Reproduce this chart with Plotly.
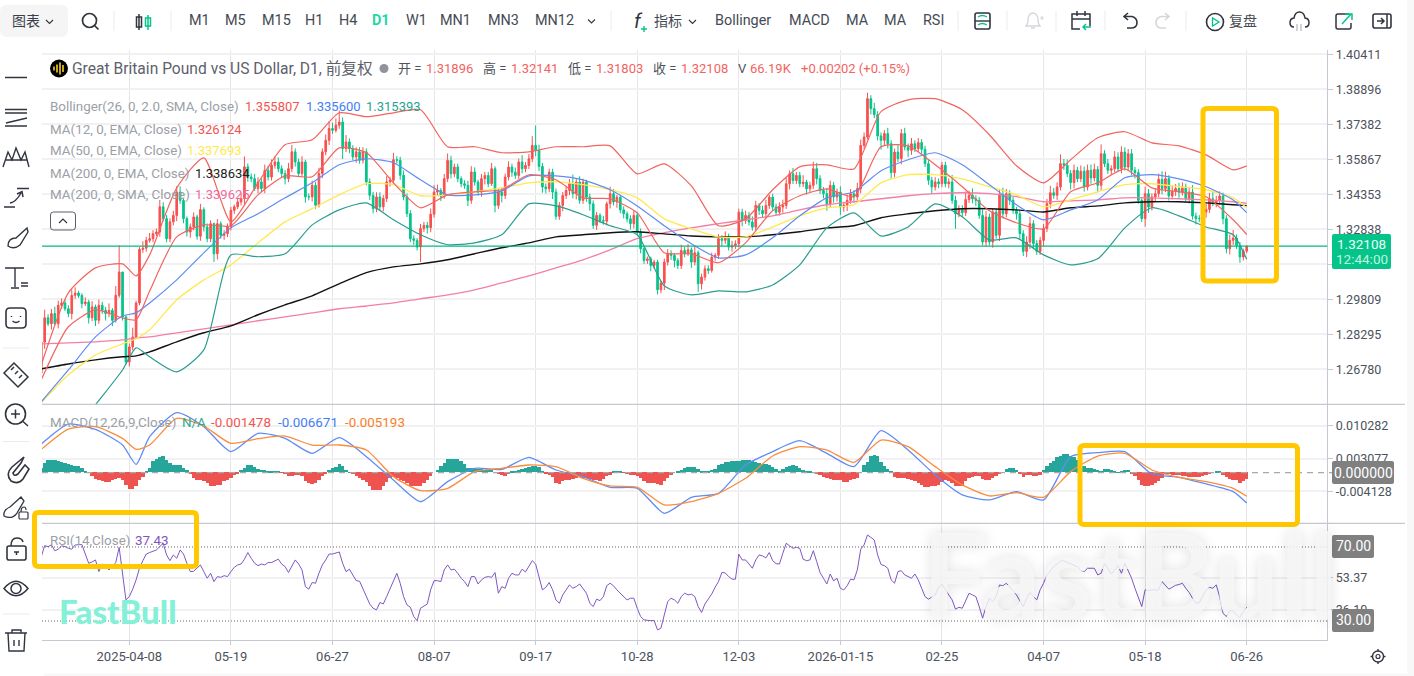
import re
import plotly.graph_objects as go

W, H = 1414, 676

# --- Daily GBP/USD session data -------------------------------------------
first_open = 1.2662
closes = [
1.2796,1.2901,1.2875,1.2919,1.2875,1.2955,1.2965,1.2940,1.2919,1.2998,
1.3008,1.2997,1.2962,1.2969,1.2901,1.2948,1.2890,1.2955,1.2933,1.2919,
1.2933,1.2890,1.2998,1.3099,1.2904,1.2710,1.2775,1.2818,1.2965,1.3197,
1.3202,1.3236,1.3243,1.3265,1.3272,1.3381,1.3330,1.3243,1.3316,1.3344,
1.3445,1.3409,1.3330,1.3272,1.3294,1.3337,1.3254,1.3369,1.3294,1.3243,
1.3308,1.3178,1.3308,1.3258,1.3265,1.3294,1.3366,1.3381,1.3402,1.3417,
1.3554,1.3510,1.3503,1.3460,1.3489,1.3460,1.3539,1.3510,1.3561,1.3575,
1.3546,1.3525,1.3503,1.3546,1.3619,1.3575,1.3525,1.3575,1.3424,1.3424,
1.3474,1.3388,1.3525,1.3619,1.3669,1.3720,1.3712,1.3734,1.3748,1.3633,
1.3662,1.3633,1.3597,1.3619,1.3583,1.3619,1.3489,1.3431,1.3373,1.3424,
1.3381,1.3417,1.3489,1.3496,1.3585,1.3583,1.3518,1.3424,1.3352,1.3243,
1.3236,1.3207,1.3287,1.3301,1.3291,1.3349,1.3445,1.3452,1.3426,1.3503,
1.3582,1.3524,1.3553,1.3503,1.3481,1.3474,1.3409,1.3532,1.3488,1.3445,
1.3503,1.3517,1.3481,1.3546,1.3387,1.3445,1.3430,1.3510,1.3553,1.3531,
1.3517,1.3575,1.3546,1.3560,1.3589,1.3647,1.3625,1.3556,1.3467,1.3459,
1.3531,1.3445,1.3340,1.3387,1.3430,1.3452,1.3481,1.3438,1.3488,1.3409,
1.3488,1.3423,1.3394,1.3301,1.3344,1.3322,1.3319,1.3394,1.3438,1.3402,
1.3423,1.3368,1.3351,1.3329,1.3308,1.3344,1.3272,1.3200,1.3149,1.3156,
1.3127,1.3142,1.3022,1.3051,1.3142,1.3178,1.3171,1.3149,1.3127,1.3192,
1.3178,1.3195,1.3142,1.3182,1.3048,1.3077,1.3113,1.3106,1.3163,1.3171,
1.3243,1.3236,1.3250,1.3207,1.3214,1.3221,1.3358,1.3322,1.3344,1.3315,
1.3293,1.3387,1.3366,1.3351,1.3387,1.3423,1.3380,1.3358,1.3380,1.3387,
1.3481,1.3524,1.3495,1.3517,1.3481,1.3488,1.3459,1.3474,1.3546,1.3503,
1.3452,1.3438,1.3394,1.3474,1.3424,1.3445,1.3380,1.3388,1.3409,1.3438,
1.3424,1.3460,1.3647,1.3683,1.3849,1.3806,1.3780,1.3688,1.3669,1.3698,
1.3654,1.3529,1.3618,1.3590,1.3698,1.3640,1.3626,1.3654,1.3633,1.3659,
1.3630,1.3568,1.3496,1.3467,1.3489,1.3481,1.3561,1.3481,1.3489,1.3409,
1.3351,1.3373,1.3356,1.3413,1.3431,1.3416,1.3409,1.3344,1.3229,1.3337,
1.3229,1.3359,1.3258,1.3434,1.3351,1.3438,1.3409,1.3366,1.3351,1.3265,
1.3188,1.3229,1.3308,1.3222,1.3188,1.3236,1.3287,1.3395,1.3442,1.3431,
1.3467,1.3568,1.3561,1.3525,1.3486,1.3539,1.3503,1.3535,1.3467,1.3539,
1.3506,1.3543,1.3474,1.3611,1.3568,1.3539,1.3546,1.3597,1.3546,1.3618,
1.3553,1.3611,1.3539,1.3529,1.3409,1.3330,1.3438,1.3380,1.3424,1.3438,
1.3500,1.3460,1.3503,1.3428,1.3448,1.3460,1.3445,1.3467,1.3416,1.3445,
1.3341,1.3330,1.3330,1.3359,1.3370,1.3416,1.3399,1.3409,1.3428,1.3330,
1.3200,1.3236,1.3246,1.3214,1.3164,1.31896,1.32108]

# Shadow lengths above and below each body, in units of 0.0001
upper_wick = [
15,35,15,20,30,20,20,15,15,25, 25,10,10,20,10,25,10,25,15,15,
30,10,40,116,0,10,15,40,10,10, 30,15,25,15,15,30,20,15,15,20,
25,25,10,10,15,20,10,25,10,15, 15,5,20,10,15,15,15,10,15,25,
45,15,15,20,20,15,25,20,25,25, 20,15,15,25,30,15,15,25,10,15,
20,15,25,15,25,30,25,30,50,20, 30,15,15,20,20,20,15,15,15,20,
20,15,25,15,30,15,15,20,15,15, 15,10,20,15,15,25,30,25,10,20,
30,20,15,15,10,15,20,25,20,10, 20,15,15,25,10,15,20,15,25,15,
20,15,30,15,20,40,86,25,15,15, 15,15,15,15,15,20,20,40,15,25,
15,10,15,15,15,10,20,10,30,20, 10,10,15,10,15,20,15,15,10,10,
10,10,10,10,15,20,15,10,10,25, 15,25,10,30,10,15,15,15,20,10,
20,15,25,15,20,15,15,15,20,15, 25,20,10,20,25,10,15,15,20,25,
25,15,25,15,15,30,10,15,30,25, 15,15,25,20,15,15,25,15,25,20,
15,25,25,20,26,15,25,15,15,15, 25,15,15,30,20,25,15,25,15,20,
15,15,15,15,20,15,15,15,15,30, 20,15,15,35,20,30,15,15,25,25,
15,15,15,25,30,20,15,15,15,15, 15,25,30,15,15,15,20,20,30,20,
20,40,20,25,15,25,15,25,20,25, 25,25,15,40,15,20,15,25,20,25,
20,20,20,15,15,15,30,20,15,20, 25,35,30,15,25,20,25,20,15,20,
30,15,15,15,25,25,30,20,20,15, 15,25,35,15,15,10,3.3]
lower_wick = [
2,30,10,25,5,20,15,10,15,25, 15,10,20,10,25,15,25,15,15,30,
15,25,10,10,15,10,20,15,10,10, 15,15,10,15,10,20,10,15,15,15,
25,15,20,20,25,15,15,20,20,15, 15,35,25,15,20,15,15,15,10,15,
25,20,15,10,20,15,20,15,15,15, 15,15,25,15,15,20,15,15,25,15,
20,15,10,20,15,20,15,10,15,45, 15,20,15,25,15,15,15,20,20,15,
15,20,15,20,15,15,20,15,15,15, 20,15,65,15,25,20,15,15,20,10,
15,20,15,15,15,15,25,15,15,15, 20,25,15,10,30,15,30,15,15,20,
15,15,20,15,15,15,25,20,25,20, 15,30,15,15,25,15,20,20,25,15,
15,20,30,15,20,10,15,15,20,15, 25,15,20,15,25,20,15,20,15,15,
25,15,20,15,30,15,20,30,15,15, 15,10,25,15,35,25,15,15,10,15,
15,25,15,15,20,15,15,25,15,15, 15,15,20,15,20,15,15,15,15,25,
15,25,15,15,15,15,25,15,15,25, 15,20,30,15,25,20,35,20,25,15,
25,15,20,15,10,25,15,20,40,20, 20,25,20,15,25,15,30,20,15,15,
20,15,20,30,15,20,15,15,20,15, 65,15,20,15,15,20,25,15,15,20,
15,25,15,25,20,15,20,15,25,25, 20,25,30,25,15,15,25,15,20,15,
20,15,20,15,30,25,15,15,20,15, 25,15,30,20,15,15,20,15,15,20,
15,15,20,25,15,15,35,25,15,20, 15,25,15,20,15,20,25,15,15,20,
15,25,15,20,25,15,15,20,20,25, 20,25,20,15,25,15,9.3]

# Moving averages and bands, sampled on the session numbers below
line_sessions = [0,8,16,24,28] + list(range(32, 353, 8)) + [356]
boll_upper = [
1.2697,1.3009,1.3117,1.3134,1.3082,1.3173,1.3463,1.3593,1.3316,1.3485,1.3650,1.3671,
1.3788,1.3771,1.3788,1.3801,1.3641,1.3641,1.3615,1.3619,1.3641,1.3641,1.3645,1.3524,
1.3567,1.3472,1.3299,1.3329,1.3455,1.3554,1.3563,1.3545,1.3793,1.3844,1.3849,1.3801,
1.3693,1.3559,1.3485,1.3585,1.3680,1.3706,1.3658,1.3645,1.3606,1.3541,1.355807]
boll_mid = [
1.2537,1.2675,1.2818,1.2909,1.2922,1.2965,1.3065,1.3182,1.3290,1.3351,1.3420,1.3485,
1.3563,1.3589,1.3572,1.3498,1.3433,1.3433,1.3450,1.3515,1.3515,1.3498,1.3455,1.3385,
1.3299,1.3221,1.3160,1.3173,1.3247,1.3342,1.3420,1.3446,1.3537,1.3585,1.3615,1.3563,
1.3477,1.3390,1.3325,1.3368,1.3411,1.3507,1.3520,1.3502,1.3468,1.3411,1.3356]
boll_lower = [
1.2242,1.2372,1.2524,1.2675,1.2771,1.2732,1.2667,1.2762,1.3173,1.3165,1.3178,1.3303,
1.3368,1.3398,1.3325,1.3260,1.3217,1.3225,1.3260,1.3394,1.3385,1.3347,1.3299,1.3260,
1.3039,1.3000,1.3017,1.3013,1.3043,1.3130,1.3290,1.3355,1.3255,1.3294,1.3394,1.3338,
1.3238,1.3247,1.3173,1.3130,1.3156,1.3290,1.3377,1.3342,1.3294,1.3260,1.315393]
ema12 = [
1.2632,1.2862,1.2935,1.2900,1.2892,1.3017,1.3251,1.3303,1.3299,1.3433,1.3515,1.3511,
1.3636,1.3615,1.3485,1.3377,1.3433,1.3446,1.3455,1.3520,1.3498,1.3420,1.3416,1.3355,
1.3182,1.3178,1.3139,1.3225,1.3364,1.3429,1.3459,1.3425,1.3641,1.3645,1.3563,1.3468,
1.3364,1.3312,1.3286,1.3446,1.3485,1.3545,1.3463,1.3446,1.3425,1.3325,1.326124]
ema50 = [
1.2533,1.2654,1.2740,1.2788,1.2810,1.2849,1.2979,1.3065,1.3130,1.3225,1.3316,1.3373,
1.3433,1.3481,1.3477,1.3429,1.3433,1.3446,1.3463,1.3485,1.3489,1.3477,1.3455,1.3420,
1.3329,1.3286,1.3251,1.3251,1.3294,1.3342,1.3377,1.3390,1.3485,1.3520,1.3520,1.3502,
1.3468,1.3433,1.3381,1.3411,1.3446,1.3477,1.3481,1.3468,1.3455,1.3420,1.337693]
ema200 = [
1.2680,1.2701,1.2719,1.2732,1.2736,1.2753,1.2797,1.2836,1.2866,1.2914,1.2957,1.2996,
1.3048,1.3096,1.3121,1.3134,1.3152,1.3178,1.3204,1.3225,1.3251,1.3260,1.3269,1.3273,
1.3264,1.3255,1.3251,1.3251,1.3260,1.3273,1.3290,1.3299,1.3334,1.3351,1.3364,1.3373,
1.3373,1.3368,1.3359,1.3377,1.3385,1.3398,1.3403,1.3403,1.3398,1.3390,1.338634]
sma200 = [
1.2788,1.2792,1.2797,1.2805,1.2814,1.2818,1.2836,1.2853,1.2870,1.2888,1.2905,1.2922,
1.2940,1.2952,1.2965,1.2983,1.3000,1.3022,1.3052,1.3082,1.3117,1.3152,1.3195,1.3243,
1.3269,1.3290,1.3308,1.3325,1.3342,1.3368,1.3390,1.3403,1.3416,1.3429,1.3438,1.3442,
1.3438,1.3425,1.3403,1.3407,1.3411,1.3420,1.3420,1.3416,1.3411,1.3403,1.339625]

# MACD(12,26,9) lines in units of 0.001, histogram in units of 0.00001
macd_line = [
6.31,10.71,9.54,6.09,1.84,7.92,13.2,10.12,4.63,8.66,7.56,4.26,7.70,3.53,-1.60,-6.37,
-1.97,0.96,0.74,3.38,0.59,-0.87,-3.22,-3.44,-8.94,-5.42,-4.54,1.69,4.63,7.04,4.26,1.33,
9.24,5.0,-0.51,-4.9,-6.0,-4.17,-6.0,3.53,4.41,4.63,-0.29,-1.02,-2.48,-4.17,-6.671]
macd_signal = [
5.14,9.61,10.12,7.56,5.14,6.09,11.96,10.27,6.46,7.48,8.07,6.09,6.09,4.99,-0.87,-3.95,
-3.44,0.23,0.96,1.69,1.33,-1.24,-2.92,-3.22,-7.1,-6.37,-4.54,-1.24,3.67,5.72,4.99,2.28,
7.19,5.72,1.33,-2.7,-5.12,-4.39,-5.42,0.23,3.67,4.26,0.59,-1.02,-1.97,-3.44,-5.193]
macd_hist = [
95,205,264,279,264,242,235,205,191,154, 147,132,95,37,0,-73,-147,-176,-198,-213,
-213,-176,-147,-125,-161,-271,-367,-367,-308,-161, -103,22,95,242,293,337,367,279,205,169,
169,169,95,44,-15,-125,-176,-161,-198,-235, -293,-308,-271,-271,-198,-161,-125,-51,-15,44,
95,154,154,110,73,44,44,29,22,22, 22,-7,-29,-88,-73,-59,-59,-88,-198,-235,
-249,-235,-161,-73,-15,44,95,117,183,132, 59,7,-29,-73,-125,-161,-220,-293,-396,-396,
-381,-293,-220,-125,-110,-125,-161,-198,-235,-293, -308,-308,-293,-235,-161,-73,0,59,132,205,
293,293,293,293,242,191,95,95,95,81, 73,59,73,44,0,-29,-51,-73,-29,22,
37,59,73,95,110,132,132,110,15,-22, -59,-103,-235,-249,-198,-161,-161,-147,-125,-103,
-117,-132,-147,-161,-176,-183,-147,-88,-51,22, 22,15,-7,-29,-51,-59,-88,-132,-183,-235,
-235,-235,-249,-271,-183,-125,-51,0,29,44, 95,117,110,110,73,37,22,29,59,81,
154,191,227,235,242,249,257,264,279,264, 257,227,205,191,176,169,110,73,22,73,
110,147,154,139,103,59,29,15,0,-22, -59,-103,-125,-147,-161,-161,-169,-213,-213,-161,
-139,-125,0,169,220,352,381,352,220,132, 73,15,-103,-125,-125,-125,-139,-161,-198,-235,
-279,-323,-323,-308,-293,-271,-220,-176,-198,-235, -293,-293,-293,-198,-125,-103,-88,-73,-147,-176,
-161,-125,-88,-29,0,73,103,95,44,-29, -103,-59,-59,-88,-73,-51,59,132,205,249,
337,367,396,403,367,337,279,191,147,95, 95,81,51,37,66,73,44,15,7,37,
44,44,-29,-88,-161,-271,-293,-293,-271,-235, -183,-125,-29,-29,-51,-51,-51,-73,-88,-95,
-103,-110,-110,-88,-51,-29,0,15,15,-51, -103,-147,-161,-176,-235,-198,-147.8]

# RSI(14)
rsi = [
64.8,70.7,70.2,71.1,68.0,68.8,70.6,70.2,69.3,68.8, 71.1,71.3,71.3,66.2,61.2,61.9,63.0,56.7,60.8,59.4,
57.6,59.4,61.6,69.8,55.8,41.4,43.2,47.2,52.2,58.5, 62.6,66.2,67.0,67.5,68.4,70.2,72.0,65.7,62.6,65.7,
63.9,68.4,66.2,61.2,56.7,56.9,58.5,60.3,56.7,53.1, 55.8,51.3,54.0,53.6,54.5,54.0,56.7,59.0,60.3,60.8,
63.4,67.0,63.9,61.2,59.9,60.8,60.3,61.6,61.6,62.3, 63.4,60.8,59.4,56.2,59.8,63.0,60.8,57.6,48.6,47.2,
50.8,50.4,55.8,60.3,63.0,66.2,66.2,66.6,67.3,61.2, 56.7,58.0,54.9,51.8,51.5,47.7,43.2,39.2,36.9,36.0,
40.0,39.2,43.2,47.7,51.3,55.8,50.4,43.2,38.7,37.4, 32.4,30.2,36.9,38.3,39.2,46.9,51.8,51.8,51.3,57.6,
60.3,57.6,58.0,55.8,53.1,51.3,48.6,54.0,54.0,50.0, 52.2,53.6,54.0,53.6,56.2,45.0,48.6,47.7,53.1,55.8,
54.9,54.9,58.0,56.5,59.4,62.6,60.8,53.1,46.8,48.2, 50.8,46.9,41.4,39.6,44.1,46.8,49.5,47.7,48.6,50.0,
47.7,45.0,39.6,37.8,41.8,41.0,43.2,49.1,50.4,49.0, 46.8,45.0,43.2,41.4,42.3,42.3,36.9,32.4,30.6,30.2,
30.2,30.2,25.2,26.1,34.2,40.5,42.3,41.4,39.6,43.2, 45.0,44.1,44.5,43.2,37.8,34.6,39.2,41.8,44.6,48.2,
51.3,56.2,56.0,54.0,52.6,52.6,66.1,63.0,63.0,60.8, 58.5,63.0,65.7,65.2,64.1,67.0,62.6,61.0,60.8,66.6,
72.0,70.6,69.3,69.8,69.3,63.4,62.6,63.0,68.0,62.1, 56.2,53.1,50.0,55.4,51.7,53.1,47.7,46.8,49.0,52.6,
52.2,57.6,68.8,71.1,76.5,75.2,73.8,65.7,60.5,59.9, 58.5,52.2,50.4,56.7,57.2,54.9,54.0,53.1,55.4,52.2,
47.7,43.2,41.8,43.2,44.1,48.2,50.0,46.9,44.1,41.4, 36.4,37.4,36.9,40.5,45.0,44.1,43.2,37.8,31.5,37.8,
42.3,40.5,43.2,49.5,49.0,50.4,48.6,46.4,44.1,40.9, 37.8,42.3,45.5,43.2,41.4,46.9,50.4,54.9,57.2,59.4,
60.8,62.5,62.5,61.6,60.8,60.1,59.4,57.2,56.7,58.5, 58.5,58.5,54.9,55.8,61.2,58.0,55.4,57.6,59.9,55.8,
61.2,57.2,53.1,47.7,42.3,37.8,46.9,46.4,46.8,46.8, 46.8,51.3,49.5,47.2,48.2,49.3,49.7,50.4,47.7,45.4,
42.3,39.6,40.0,43.2,46.8,48.2,47.7,49.5,43.2,34.2, 32.4,35.6,35.6,33.3,31.9,35.1,37.43]

# Axis labelling; the 1.31324 gridline sits behind the last-price tag, so it carries no label
date_ticks = [26, 56, 86, 116, 146, 176, 206, 236, 266, 296, 326, 356]
date_labels = ["2025-04-08","05-19","06-27","08-07","09-17","10-28","12-03",
               "2026-01-15","02-25","04-07","05-18","06-26"]
price_ticks = [1.40411,1.38896,1.37382,1.35867,1.34353,1.32838,1.31324,1.29809,1.28295,1.26780]
price_labels = ["1.40411","1.38896","1.37382","1.35867","1.34353","1.32838","","1.29809","1.28295","1.26780"]
macd_ticks = [0.010282,0.003077,-0.004128]
rsi_ticks = [53.37,36.10]

RED, GREEN = "#f9504f", "#05c48a"
TEXT, MUTED = "#4d525c", "#9b9fa7"
GRID, VGRID, AXIS = "#f1f1f3", "#e6e6e8", "#c8c8d2"
FONT = "Roboto, Noto Sans CJK SC"

sessions = list(range(len(closes)))
opens = [first_open] + closes[:-1]
highs = [max(o, c) + u / 1e4 for o, c, u in zip(opens, closes, upper_wick)]
lows = [min(o, c) - d / 1e4 for o, c, d in zip(opens, closes, lower_wick)]


def px(x):
    return x / W


def py(y):
    return 1 - y / H


fig = go.Figure()
fig.add_trace(go.Candlestick(
    x=sessions, open=opens, high=highs, low=lows, close=closes, whiskerwidth=0,
    increasing=dict(line=dict(color=RED, width=1), fillcolor=RED),
    decreasing=dict(line=dict(color=GREEN, width=1), fillcolor=GREEN),
    xaxis="x", yaxis="y", hoverinfo="skip"))

for series, colour, width in [
    (sma200, "#f47ea6", 1.3), (ema200, "#111111", 1.4), (ema50, "#ffe94d", 1.3),
    (boll_mid, "#5f8cf5", 1.2), (boll_lower, "#2a9d8f", 1.2),
    (boll_upper, "#f2655f", 1.2), (ema12, "#f2655f", 1.2)]:
    fig.add_trace(go.Scatter(x=line_sessions, y=series, mode="lines", hoverinfo="skip",
                             line=dict(color=colour, width=width, shape="spline", smoothing=0.6),
                             xaxis="x", yaxis="y"))

fig.add_trace(go.Bar(x=sessions, y=[v / 1e5 for v in macd_hist], width=1,
                     marker=dict(color=["#26a69a" if v >= 0 else "#ef5350" for v in macd_hist],
                                 line_width=0),
                     xaxis="x2", yaxis="y2", hoverinfo="skip"))
fig.add_trace(go.Scatter(x=line_sessions, y=[v / 1e3 for v in macd_line], mode="lines", hoverinfo="skip",
                         line=dict(color="#5f8cf5", width=1.3, shape="spline", smoothing=0.6),
                         xaxis="x2", yaxis="y2"))
fig.add_trace(go.Scatter(x=line_sessions, y=[v / 1e3 for v in macd_signal], mode="lines", hoverinfo="skip",
                         line=dict(color="#fb8c3c", width=1.3, shape="spline", smoothing=0.6),
                         xaxis="x2", yaxis="y2"))
fig.add_trace(go.Scatter(x=sessions, y=rsi, mode="lines", hoverinfo="skip",
                         line=dict(color="#7e57c2", width=1), xaxis="x3", yaxis="y3"))

x_range = [0.21, 379.8]
x_domain = [px(42), px(1327.3)]


def x_axis(anchor, labels=False):
    return dict(domain=x_domain, range=x_range, anchor=anchor, tickmode="array",
                tickvals=date_ticks, ticktext=date_labels, showticklabels=labels,
                showgrid=True, gridcolor=VGRID, gridwidth=1, zeroline=False,
                showline=labels, linecolor=AXIS, ticks="outside" if labels else "",
                ticklen=4, tickcolor=AXIS, tickfont=dict(family=FONT, size=13, color=TEXT))


def y_axis(anchor, top, bottom, rng, ticks, text):
    return dict(domain=[py(bottom), py(top)], range=rng, anchor=anchor, side="right",
                tickmode="array", tickvals=ticks, ticktext=text, showgrid=True,
                gridcolor=GRID, gridwidth=1.5, zeroline=False, ticks="outside", ticklen=5,
                tickcolor=AXIS, showline=True, linecolor=AXIS,
                tickfont=dict(family=FONT, size=12.5, color=TEXT))


layout = dict(
    width=W, height=H, autosize=False,
    margin=dict(l=0, r=0, t=0, b=0, pad=0, autoexpand=False),
    paper_bgcolor="#ffffff", plot_bgcolor="#ffffff", showlegend=False, hovermode=False,
    barmode="overlay", bargap=0,
    xaxis=dict(x_axis("y"), rangeslider=dict(visible=False)),
    xaxis2=x_axis("y2"), xaxis3=x_axis("y3", labels=True),
    yaxis=y_axis("x", 49.5, 404.3, [1.25265, 1.40619], price_ticks, price_labels),
    yaxis2=y_axis("x2", 404.3, 523.3, [-0.011146, 0.015056], macd_ticks, [f"{v:.6f}" for v in macd_ticks]),
    yaxis3=y_axis("x3", 523.3, 640.3, [19.57, 82.8], rsi_ticks, [f"{v:.2f}" for v in rsi_ticks]),
)
fig.update_layout(layout)

shapes, notes = [], []


def label(x, y, s, size=13, color=TEXT, anchor="left", weight=None, family=FONT, shadow=None):
    font = dict(family=family, size=size, color=color)
    if weight:
        font["weight"] = weight
    if shadow:
        font["shadow"] = shadow
    notes.append(dict(x=px(x), y=py(y), xref="paper", yref="paper", text=s, showarrow=False,
                      xanchor=anchor, yanchor="middle", font=font, borderpad=0, borderwidth=0))


def path(d, color="#30353f", width=1.6, fill=None, layer="above"):
    tokens = re.findall(r"[A-Za-z]|-?\d+\.?\d*", d)
    out, is_x = [], True
    for t in tokens:
        if t.isalpha():
            out.append(t)
            is_x = True
        else:
            out.append(f"{px(float(t)):.5f}" if is_x else f"{py(float(t)):.5f}")
            is_x = not is_x
    shapes.append(dict(type="path", xref="paper", yref="paper", path=" ".join(out), layer=layer,
                       line=dict(color=color, width=width), fillcolor=fill or "rgba(0,0,0,0)"))


def box(x0, y0, x1, y1, fill, r=2.0, line=None, width=0):
    d = (f"M {x0+r} {y0} L {x1-r} {y0} Q {x1} {y0} {x1} {y0+r} L {x1} {y1-r} Q {x1} {y1} {x1-r} {y1} "
         f"L {x0+r} {y1} Q {x0} {y1} {x0} {y1-r} L {x0} {y0+r} Q {x0} {y0} {x0+r} {y0} Z")
    path(d, color=line or "rgba(0,0,0,0)", width=width, fill=fill)


def ring(cx, cy, r, color="#30353f", width=1.6, fill=None):
    shapes.append(dict(type="circle", xref="paper", yref="paper", x0=px(cx - r), x1=px(cx + r),
                       y0=py(cy + r), y1=py(cy - r), layer="above",
                       line=dict(color=color, width=width), fillcolor=fill or "rgba(0,0,0,0)"))


# Last-price line, MACD zero line and RSI bands
shapes.append(dict(type="line", xref="paper", yref="y", x0=px(42), x1=px(1327.3), y0=closes[-1], y1=closes[-1],
                   line=dict(color="#06b981", width=1.2), layer="above"))
shapes.append(dict(type="line", xref="paper", yref="y2", x0=px(42), x1=px(1332), y0=0, y1=0,
                   line=dict(color="#a8a8a8", width=1.2, dash="6px,5px"), layer="above"))
for level in (70, 30):
    shapes.append(dict(type="line", xref="paper", yref="y3", x0=px(42), x1=px(1327.3), y0=level, y1=level,
                       line=dict(color="#666666", width=1, dash="1px,2px"), layer="above"))

# Panel separators and page edge
for y in (404.3, 523.3):
    path(f"M 42 {y} L 1405 {y}", color=AXIS, width=1.2)
shapes.append(dict(type="rect", xref="paper", yref="paper", x0=px(1407), x1=1, y0=0, y1=1, layer="above",
                   line_width=0, fillcolor="#f8f8f9"))
shapes.append(dict(type="rect", xref="paper", yref="paper", x0=px(44), x1=1, y0=0, y1=py(673.5), layer="above",
                   line_width=0, fillcolor="#f8f8f9"))

# Price and indicator tags on the right-hand axis
box(1332, 234, 1391, 269, GREEN)
label(1361.5, 244, "1.32108", 13.5, "#eafff7", "center")
label(1361.5, 259.5, "12:44:00", 13.5, "#bff5df", "center")
box(1332, 461, 1394, 484, "#808080")
label(1363, 472.5, "0.000000", 14, "#ffffff", "center")
box(1332, 535, 1374, 558, "#808080")
label(1353, 546, "70.00", 14, "#ffffff", "center")
box(1332, 609, 1374, 632, "#808080")
label(1353, 620, "30.00", 14, "#ffffff", "center")

# Symbol header row
ring(59, 68.5, 9, color="#000000", width=0, fill="#000000")
for bx, half in [(54, 2), (57, 4), (60, 6), (63, 3.5)]:
    path(f"M {bx} {68.5-half} L {bx} {68.5+half}", color="#f8cf2c", width=1.6)
label(72, 68.5, "Great Britain Pound vs US Dollar, D1, 前复权", 15.6, "#5d616b")
ring(384, 68.5, 4.5, color="#8f939c", width=0, fill="#8f939c")
for x, s in [(398, "开 ="), (483, "高 ="), (568, "低 ="), (653, "收 ="), (738, "V")]:
    label(x, 68.5, s, 13, TEXT)
for x, s in [(426, "1.31896"), (511, "1.32141"), (596, "1.31803"), (681, "1.32108"),
             (750, "66.19K"), (801, "+0.00202 (+0.15%)")]:
    label(x, 68.5, s, 13, "#f4635f")

# Indicator legends
label(50, 107, "Bollinger(26, 0, 2.0, SMA, Close)", 13.4, MUTED)
label(245, 107, "1.355807", 13, "#f2554f")
label(306, 107, "1.335600", 13, "#3f7ef5")
label(366, 107, "1.315393", 13, "#1ea58f")
label(50, 129, "MA(12, 0, EMA, Close)", 13.4, MUTED)
label(187, 129, "1.326124", 13, "#f2554f")
label(50, 151, "MA(50, 0, EMA, Close)", 13.4, MUTED)
label(187, 151, "1.337693", 13, "#ffe94d")
label(50, 173, "MA(200, 0, EMA, Close)", 13.4, MUTED)
label(195, 173, "1.338634", 13, "#222222")
label(50, 195, "MA(200, 0, SMA, Close)", 13.4, MUTED)
label(195, 195, "1.339625", 13, "#f0699d")
box(50.5, 212, 75.5, 230, "rgba(255,255,255,0)", r=3, line="#5a5f69", width=1)
path("M 59 223 L 63 219 L 67 223", width=1.2)

label(50, 422, "MACD(12,26,9,Close)", 13.4, MUTED)
label(182, 422, "N/A", 13.4, "#2aa994")
label(211, 422, "-0.001478", 13.4, "#f2554f")
label(278, 422, "-0.006671", 13.4, "#3f7ef5")
label(345, 422, "-0.005193", 13.4, "#fb7d1e")
label(50, 540, "RSI(14,Close)", 13.4, MUTED)
label(135, 540, "37.43", 13.4, "#7e57c2")

# Watermarks
label(1130, 573, "FastBull", 118, "rgba(247,247,247,0.84)", "center", weight=700, family="Lato",
      shadow="0 0 14px rgba(0,0,0,0.14)")
label(118, 611, "FastBull", 33, "#84f0d8", "center", weight=900, family="Lato")

# Highlight frames
FRAME = "#ffc800"
for x0, y0, x1, y1 in [(1203, 108.5, 1276.5, 281), (1080, 445.5, 1297.5, 524.5), (34.5, 512.5, 196.5, 566.5)]:
    box(x0, y0, x1, y1, "rgba(0,0,0,0)", r=4, line=FRAME, width=5)

# Top toolbar
box(0, 5, 68, 37, "#f5f5f6", r=7)
label(12, 21, "图表", 14, "#3a3f49")
path("M 46 20 L 49.5 23.5 L 53 20", width=1.1)
ring(89.5, 20.5, 7, width=1.7)
path("M 94.5 25.5 L 98.5 29.5", width=1.7)
for x in (114, 171, 611, 958, 1007, 1056, 1105, 1186):
    path(f"M {x} 11 L {x} 31", color="#ececee", width=1)
path("M 139 14 L 139 30 M 136.5 17 L 141.5 17 L 141.5 27 L 136.5 27 Z", width=1.5)
path("M 148 15 L 148 30 M 145.5 18 L 150.5 18 L 150.5 26 L 145.5 26 Z", color=GREEN, width=1.5)
for x, s in [(199, "M1"), (235, "M5"), (276, "M15"), (314, "H1"), (348, "H4"), (416, "W1"), (456, "MN1"),
             (503, "MN3"), (554, "MN12"), (743, "Bollinger"), (809, "MACD"), (857, "MA"), (895, "MA"), (933, "RSI")]:
    label(x, 21, s, 14.4, "#454a54", "center")
label(381, 21, "D1", 14.4, "#1fd6a5", "center", weight=700)
path("M 588 19.5 L 591.5 23 L 595 19.5", width=1.1)
label(638, 21, "<i>f</i>", 20, "#30353f", "center")
path("M 644 26 L 644 32 M 641 29 L 647 29", color=GREEN, width=1.4)
label(668, 21, "指标", 14, "#454a54", "center")
path("M 689 20 L 692.5 23.5 L 696 20", width=1.1)
box(975, 13, 990, 29, "rgba(0,0,0,0)", r=2, line="#30353f", width=1.6)
path("M 975 21 L 990 21", width=1.4)
path("M 978 17 Q 982 14 987 17 M 978 25 Q 982 22 987 25", color=GREEN, width=1.3)
path("M 1026 26 Q 1028 24 1028 19 Q 1029 13 1033 13 Q 1037 13 1038 19 Q 1038 24 1040 26 Z M 1031 28 L 1035 28",
     color="#d5d6da", width=1.4)
path("M 1040 18 L 1044 18 M 1042 16 L 1042 20", color="#d5d6da", width=1.2)
path("M 1090 26 L 1090 14 L 1072 14 L 1072 29 L 1080 29 M 1072 19 L 1090 19 M 1077 11 L 1077 16 M 1085 11 L 1085 16", width=1.5)
path("M 1091 27 L 1083 27 M 1086 24 L 1083 27 L 1086 30", color=GREEN, width=1.4)
path("M 1128 13 L 1124 16.5 L 1128 20 M 1124 16.5 L 1132 16.5 Q 1137 18 1137 22.5 Q 1137 28 1131 28 L 1127 28", width=1.6)
path("M 1165 13 L 1169 16.5 L 1165 20 M 1169 16.5 L 1161 16.5 Q 1156 18 1156 22.5 Q 1156 28 1162 28 L 1166 28",
     color="#d5d6da", width=1.6)
ring(1215, 22, 8.5, width=1.6)
path("M 1212.5 18 L 1212.5 26 L 1219 22 Z", color=GREEN, width=1.3)
label(1243, 21, "复盘", 14, "#454a54", "center")
path("M 1294 27 Q 1290 27 1290 22.5 Q 1290 18.5 1294 18 Q 1295 12 1299.5 12 Q 1304 12 1305 18 Q 1309 18.5 1309 22.5 Q 1309 27 1305 27", width=1.5)
path("M 1297 24 L 1297 31 M 1301 24 L 1301 31", color="#b9bcc2", width=1.3)
path("M 1349 14 L 1338 14 Q 1336 14 1336 16 L 1336 27 Q 1336 29 1338 29 L 1349 29 Q 1351 29 1351 27 L 1351 23", width=1.5)
path("M 1342 24 L 1351 14 M 1345 14 L 1352 14 L 1352 20", color=GREEN, width=1.5)
box(1373, 14, 1391, 28, "rgba(0,0,0,0)", r=2, line="#30353f", width=1.6)
path("M 1377 21 L 1384 21 M 1381 18 L 1384 21 L 1381 24 M 1387 14 L 1387 28", width=1.5)

# Left drawing-tools column
path("M 5 77.5 L 27 77.5", width=1.5)
path("M 5 109.5 L 27 109.5 M 5 113 L 27 113 M 5 126 L 27 126 M 6 123 L 27 118", width=1.3)
path("M 3 167 L 8 152 L 12 160 L 16 148 L 21 160 L 25 152 L 29 167 M 6 160 L 27 160", width=1.4)
path("M 17 188.5 L 29 188.5 M 4 207 L 15 207 M 10 203 Q 16 202 21 193 M 17 194 L 22 191.5 L 23 197", width=1.5)
path("M 27 228 L 16 238 Q 8 238 8 246 Q 14 250 20 245 L 28 232 Z", width=1.4)
path("M 5 268 L 24 268 M 15 268 L 15 287 M 11 288 L 19 288 M 21 283 L 28 283 M 21 286 L 28 286", width=1.4)
box(6, 308, 26, 328, "rgba(0,0,0,0)", r=4, line="#30353f", width=1.6)
path("M 11.5 316 L 11.5 317 M 20.5 316 L 20.5 317 M 12.5 321 Q 16 324 19.5 321", width=1.5)
path("M 3 348 L 30 348 M 3 441.5 L 30 441.5 M 3 614 L 30 614", color="#ececee", width=1)
path("M 14 363 L 28 377 L 18 387 L 4 373 Z M 11 370 L 14 367 M 15 374 L 18 371 M 19 378 L 22 375", width=1.5)
ring(15.5, 414, 10, width=1.6)
path("M 11 414 L 20 414 M 15.5 409.5 L 15.5 418.5 M 23 421.5 L 28 426", width=1.5)
path("M 24 457 L 12 467 Q 5 474 11 481 Q 18 485 23 479 L 29 469 L 25 465 L 18 474 Q 14 477 13 473 L 21 463 Z", width=1.6)
path("M 21 497 L 10 507 Q 3 510 4 516 Q 12 520 17 513 L 24 501 Z", width=1.3)
box(19, 512, 28, 519, "rgba(0,0,0,0)", r=1, line="#30353f", width=1.2)
path("M 21 512 Q 21 507 24 507 Q 26 507 26 510", width=1.2)
box(7, 546, 26, 560, "rgba(0,0,0,0)", r=2, line="#30353f", width=1.6)
path("M 11 546 Q 11 538 17 538 Q 22 538 23 542 M 14 552 L 19 552 M 16.5 552 L 16.5 555", width=1.5)
path("M 4 588.5 Q 16 574 28 588.5 Q 16 603 4 588.5 Z", width=1.5)
ring(16, 588.5, 5, width=1.5)
path("M 5 633 L 27 633 M 12 633 L 12 630 L 21 630 L 21 633 M 8 633 L 9 651 L 24 651 L 25 633 M 14 640 L 14 646 M 19 640 L 19 646", width=1.4)

# Settings gear beside the date axis
ring(1378, 656.5, 5.5, width=1.4)
ring(1378, 656.5, 2, width=1.2)
path("M 1378 649 L 1378 651 M 1378 662 L 1378 664 M 1370.5 656.5 L 1372.5 656.5 M 1383.5 656.5 L 1385.5 656.5", width=1.4)

fig.update_layout(shapes=shapes, annotations=notes)
fig.write_html("out.html")
